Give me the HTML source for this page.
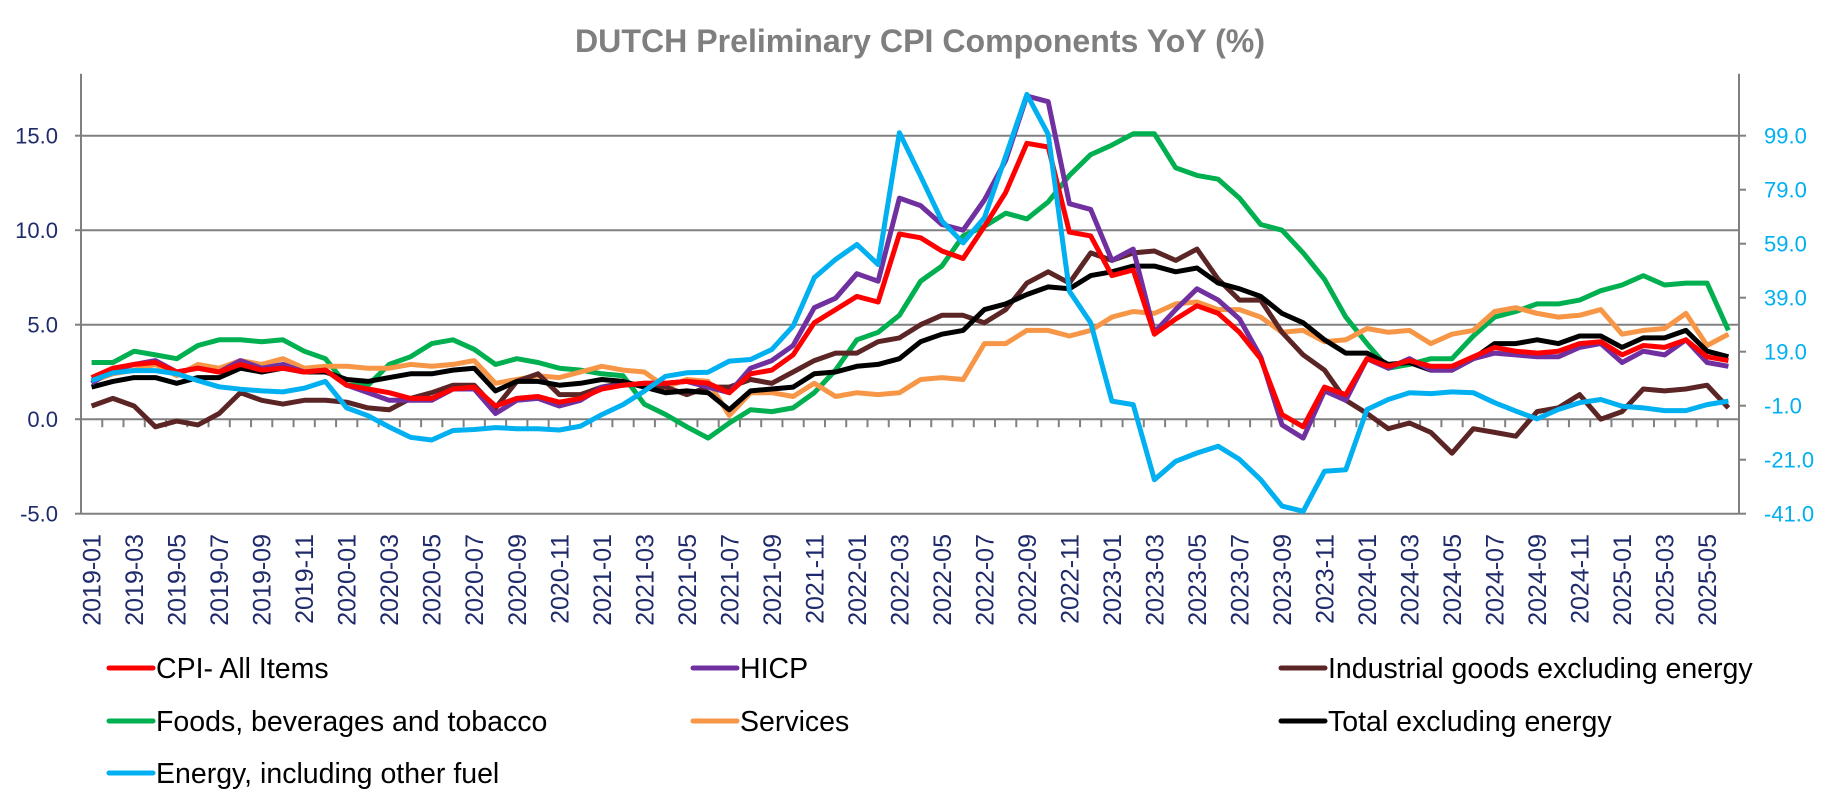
<!DOCTYPE html>
<html><head><meta charset="utf-8"><style>
html,body{margin:0;padding:0;background:#fff;}
svg{display:block;font-family:"Liberation Sans",sans-serif;}
</style></head><body>
<svg id="chart" width="1833" height="812" viewBox="0 0 1833 812" xmlns="http://www.w3.org/2000/svg">
<text x="920" y="52" text-anchor="middle" font-size="32" font-weight="bold" fill="#7f7f7f" textLength="690" lengthAdjust="spacingAndGlyphs">DUTCH Preliminary CPI Components YoY (%)</text>
<g id="grid"></g><g id="axes"></g><g id="lines"></g><g id="legend"></g>
</svg>
<script>
const cpi=[2.2,2.7,2.9,3.0,2.5,2.7,2.5,2.9,2.6,2.7,2.5,2.6, 1.8,1.6,1.4,1.1,1.1,1.6,1.7,0.7,1.1,1.2,0.9,1.1, 1.6,1.8,1.9,1.9,2.0,1.9,1.4,2.4,2.6,3.4,5.1,5.8, 6.5,6.2,9.8,9.6,8.9,8.5,10.2,12.0,14.6,14.4,9.9,9.7, 7.6,7.9,4.5,5.3,6.0,5.6,4.6,3.2,0.25,-0.4,1.7,1.3, 3.2,2.8,3.1,2.8,2.8,3.3,3.8,3.6,3.5,3.6,4.0,4.1, 3.4,3.9,3.8,4.2,3.3,3.1];
const hicp=[1.9,2.6,2.9,3.1,2.5,2.7,2.5,3.1,2.7,2.9,2.5,2.6, 1.8,1.4,1.0,1.0,1.0,1.6,1.6,0.3,1.0,1.1,0.7,1.0, 1.7,1.8,1.9,1.9,2.0,1.7,1.4,2.7,3.1,3.9,5.9,6.4, 7.7,7.3,11.7,11.3,10.3,10.0,11.6,13.7,17.1,16.8,11.4,11.1, 8.4,9.0,4.6,5.8,6.9,6.3,5.3,3.3,-0.3,-1.0,1.5,1.0, 3.2,2.7,3.2,2.6,2.6,3.2,3.5,3.4,3.3,3.3,3.8,4.0, 3.0,3.6,3.4,4.2,3.0,2.8];
const industrial=[0.7,1.1,0.7,-0.4,-0.1,-0.3,0.3,1.4,1.0,0.8,1.0,1.0, 0.9,0.6,0.5,1.1,1.4,1.8,1.8,0.6,2.0,2.4,1.3,1.3, 1.7,1.9,1.8,1.7,1.3,1.7,1.7,2.1,1.9,2.5,3.1,3.5, 3.5,4.1,4.3,5.0,5.5,5.5,5.1,5.8,7.2,7.8,7.2,8.8, 8.4,8.8,8.9,8.4,9.0,7.4,6.3,6.3,4.6,3.4,2.6,1.0, 0.3,-0.5,-0.2,-0.7,-1.8,-0.5,-0.7,-0.9,0.4,0.6,1.3,0.0, 0.4,1.6,1.5,1.6,1.8,0.6];
const food=[3.0,3.0,3.6,3.4,3.2,3.9,4.2,4.2,4.1,4.2,3.6,3.2, 1.8,1.8,2.9,3.3,4.0,4.2,3.7,2.9,3.2,3.0,2.7,2.6, 2.4,2.3,0.8,0.25,-0.4,-1.0,-0.2,0.5,0.4,0.6,1.4,2.6, 4.2,4.6,5.5,7.3,8.1,9.7,10.2,10.9,10.6,11.5,12.9,14.0, 14.5,15.1,15.1,13.3,12.9,12.7,11.7,10.3,10.0,8.8,7.4,5.4, 4.0,2.7,2.9,3.2,3.2,4.4,5.4,5.7,6.1,6.1,6.3,6.8, 7.1,7.6,7.1,7.2,7.2,4.7];
const services=[2.0,2.4,2.6,2.9,2.3,2.9,2.7,3.1,2.9,3.2,2.7,2.8, 2.8,2.7,2.7,2.9,2.8,2.9,3.1,1.9,2.1,2.3,2.2,2.5, 2.8,2.6,2.5,1.7,2.1,2.0,0.2,1.4,1.4,1.2,1.9,1.2, 1.4,1.3,1.4,2.1,2.2,2.1,4.0,4.0,4.7,4.7,4.4,4.7, 5.4,5.7,5.6,6.1,6.2,5.8,5.8,5.4,4.6,4.7,4.1,4.2, 4.8,4.6,4.7,4.0,4.5,4.7,5.7,5.9,5.6,5.4,5.5,5.8, 4.5,4.7,4.8,5.6,3.9,4.5];
const exEnergy=[1.7,2.0,2.2,2.2,1.9,2.2,2.2,2.7,2.5,2.7,2.5,2.5, 2.1,2.0,2.2,2.4,2.4,2.6,2.7,1.5,2.0,2.0,1.8,1.9, 2.1,2.0,1.7,1.4,1.5,1.4,0.5,1.5,1.6,1.7,2.4,2.5, 2.8,2.9,3.2,4.1,4.5,4.7,5.8,6.1,6.6,7.0,6.9,7.6, 7.8,8.1,8.1,7.8,8.0,7.2,6.9,6.5,5.6,5.1,4.2,3.5, 3.5,2.9,3.0,2.6,2.6,3.2,4.0,4.0,4.2,4.0,4.4,4.4, 3.8,4.3,4.3,4.7,3.6,3.3];
const energy=[8.3,11.2,12.0,12.0,10.8,8.3,6.0,5.1,4.5,4.1,5.5,8.0, -1.8,-4.7,-8.9,-12.7,-13.7,-10.2,-9.8,-9.1,-9.5,-9.5,-10.0,-8.6, -4.3,-0.6,4.4,9.9,11.2,11.4,15.5,16.1,19.8,28.5,46.4,53.2, 58.7,51.3,100.1,84.0,67.4,59.3,68.6,91.4,114.3,99.5,41.4,29.7, 0.7,-0.6,-28.4,-21.6,-18.5,-16.0,-20.9,-28.4,-38.2,-40.1,-25.3,-24.7, -2.4,1.3,3.8,3.5,4.1,3.8,0.1,-3.0,-5.9,-2.4,0.1,1.3, -1.2,-1.8,-2.8,-2.8,-0.6,0.7];
const leftTicks=[15,10,5,0,-5];
const rightTicks=[99,79,59,39,19,-1,-21,-41];
const seriesNames=["CPI- All Items","HICP","Industrial goods excluding energy","Foods, beverages and tobacco","Services","Total excluding energy","Energy, including other fuel"];

const NS="http://www.w3.org/2000/svg";
const X0=81,X1=1739,YT=135.7,YB=513.7;
const N=cpi.length;
const step=(X1-X0)/N;
function xs(i){return X0+(i+0.5)*step;}
function yl(v){return YB-(v+5)/20*(YB-YT);}
function yr(v){return YB-(v+41)/140*(YB-YT);}
function mk(tag,attrs,parent){const e=document.createElementNS(NS,tag);for(const k in attrs)e.setAttribute(k,attrs[k]);parent.appendChild(e);return e;}
const grid=document.getElementById('grid'),axes=document.getElementById('axes'),lines=document.getElementById('lines'),legend=document.getElementById('legend');

leftTicks.forEach(t=>{
  const y=yl(t);
  if(t!==-5){const g=mk('line',{x1:X0,x2:X1,y1:y,y2:y,stroke:'#808080','stroke-width':2},grid);
  
  }
  mk('line',{x1:X0-6,x2:X0,y1:y,y2:y,stroke:'#808080','stroke-width':2},axes);
  const tx=mk('text',{x:58,y:y+8,'text-anchor':'end','font-size':22,fill:'#1f2a6b'},axes);
  tx.textContent=t.toFixed(1);
  
  
});
const bl=mk('line',{x1:X0,x2:X1,y1:YB,y2:YB,stroke:'#808080','stroke-width':2},axes);


const la=mk('line',{x1:X0,x2:X0,y1:YT-62,y2:YB,stroke:'#808080','stroke-width':2},axes);


const ra=mk('line',{x1:X1,x2:X1,y1:YT-62,y2:YB,stroke:'#808080','stroke-width':2},axes);


rightTicks.forEach(t=>{
  const y=yr(t);
  mk('line',{x1:X1,x2:X1+7,y1:y,y2:y,stroke:'#808080','stroke-width':2},axes);
  const tx=mk('text',{x:1764,y:y+8,'font-size':22,fill:'#00b0f0'},axes);
  tx.textContent=t.toFixed(1);
  
  
});
const y0=yl(0);
for(let i=0;i<=N;i++){
  const x=X0+i*step;
  mk('line',{x1:x,x2:x,y1:y0,y2:y0+8,stroke:'#808080','stroke-width':2},axes);
}
for(let i=0;i<N;i+=2){
  const yr_=2019+Math.floor(i/12), m=(i%12)+1;
  const x=xs(i)+9;
  const tx=mk('text',{x:x,y:534,'text-anchor':'end','font-size':25,fill:'#1f2a6b',transform:`rotate(-90 ${x} 534)`},axes);
  tx.textContent=yr_+'-'+String(m).padStart(2,'0');
  
  
}
const defs=[[cpi,'#ff0000',yl,'cpi-line'],[hicp,'#7030a0',yl,'hicp-line'],[industrial,'#5b2525',yl,'industrial-goods-line'],[food,'#00b050',yl,'food-line'],[services,'#f79646',yl,'services-line'],[exEnergy,'#000000',yl,'total-excl-energy-line'],[energy,'#00b0f0',yr,'energy-line']];
const order=[3,4,2,5,1,0,6];
order.forEach(k=>{
  const [d,c,f,name]=defs[k];
  const p=mk('polyline',{points:d.map((v,i)=>xs(i).toFixed(1)+','+f(v).toFixed(1)).join(' '),fill:'none',stroke:c,'stroke-width':5,'stroke-linejoin':'round'},lines);
  
  
});
const pos=[[109,668],[693,668],[1281,668],[109,721],[693,721],[1281,721],[109,773]];
seriesNames.forEach((s,k)=>{
  const [x,y]=pos[k];
  const g=mk('g',{},legend);
  
  
  mk('line',{x1:x,x2:x+44,y1:y,y2:y,stroke:defs[k][1],'stroke-width':5,'stroke-linecap':'round'},g);
  const t=mk('text',{x:x+47,y:y+10,'font-size':28.5,fill:'#000'},g);
  t.textContent=s;
});
</script>
</body></html>
